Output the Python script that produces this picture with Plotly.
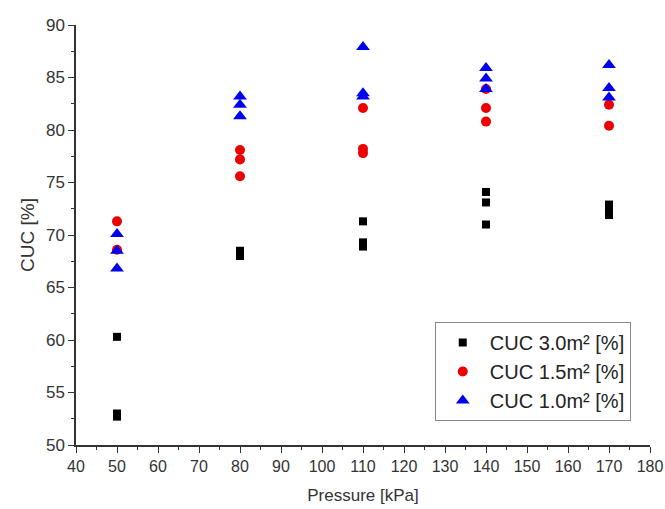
import plotly.graph_objects as go

# Data
x_30 = [50, 50, 50, 80, 80, 110, 110, 110, 140, 140, 140, 170, 170, 170]
y_30 = [60.3, 53.0, 52.7, 68.5, 68.0, 71.3, 69.3, 68.9, 74.1, 73.1, 71.0, 72.9, 72.4, 71.9]

x_15 = [50, 50, 80, 80, 80, 110, 110, 110, 140, 140, 140, 170, 170]
y_15 = [71.3, 68.6, 78.1, 77.2, 75.6, 82.1, 78.2, 77.8, 83.9, 82.1, 80.8, 82.4, 80.4]

x_10 = [50, 50, 50, 80, 80, 80, 110, 110, 110, 140, 140, 140, 170, 170, 170]
y_10 = [70.1, 68.5, 66.8, 83.2, 82.4, 81.3, 87.9, 83.5, 83.2, 85.9, 84.9, 83.9, 86.2, 84.0, 83.1]

names = ["CUC 3.0m² [%]", "CUC 1.5m² [%]", "CUC 1.0m² [%]"]

fig = go.Figure()
fig.add_trace(go.Scatter(x=x_30, y=y_30, mode="markers", name=names[0],
                         marker=dict(symbol="square", size=8, color="#000000")))
fig.add_trace(go.Scatter(x=x_15, y=y_15, mode="markers", name=names[1],
                         marker=dict(symbol="circle", size=10, color="#ee0000")))
fig.add_trace(go.Scatter(x=x_10, y=y_10, mode="markers", name=names[2],
                         marker=dict(symbol="triangle-up", size=12, color="#0000ee")))

font_fam = "Liberation Sans, Arial, sans-serif"
fig.update_layout(
    width=665, height=509,
    margin=dict(l=76, r=15, t=25, b=64),
    paper_bgcolor="white", plot_bgcolor="white",
    font=dict(family=font_fam, size=16, color="#333333"),
    showlegend=True,
    legend=dict(x=0.625, y=0.293, xanchor="left", yanchor="top",
                bordercolor="#888888", borderwidth=1, bgcolor="white",
                font=dict(size=20, color="#222222"), itemsizing="trace",
                itemwidth=44, tracegroupgap=0),
)
fig.update_xaxes(
    range=[40, 180], dtick=10, tick0=40, automargin=False,
    showline=True, linecolor="#333333", linewidth=1.5,
    ticks="outside", ticklen=6, tickwidth=1.2, tickcolor="#333333",
    minor=dict(ticks="outside", ticklen=3, dtick=5, tickcolor="#333333", showgrid=False),
    showgrid=False, zeroline=False,
    tickfont=dict(size=16),
    title=dict(text="Pressure [kPa]", font=dict(size=17, color="#333333"), standoff=15),
)
fig.update_yaxes(
    range=[50, 90], dtick=5, tick0=50, automargin=False,
    showline=True, linecolor="#333333", linewidth=1.5,
    ticks="outside", ticklen=6, tickwidth=1.2, tickcolor="#333333",
    minor=dict(ticks="outside", ticklen=3, dtick=2.5, tickcolor="#333333", showgrid=False),
    showgrid=False, zeroline=False,
    tickfont=dict(size=17),
    title=dict(text="CUC [%]", font=dict(size=19, color="#333333"), standoff=6),
)

fig.write_html("out.html")
